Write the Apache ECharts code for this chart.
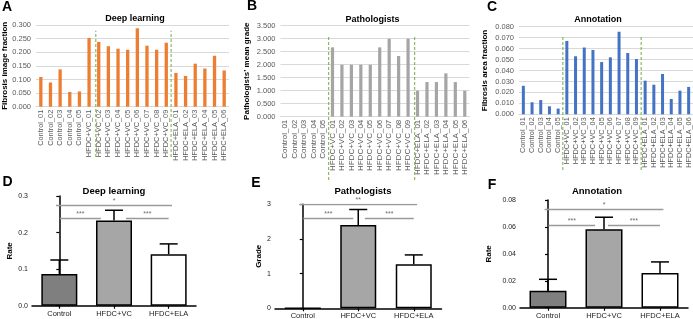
<!DOCTYPE html>
<html>
<head>
<meta charset="utf-8">
<script src="https://cdn.jsdelivr.net/npm/echarts/dist/echarts.min.js"></script>
<style>
  html, body { margin: 0; padding: 0; background: #fff; }
  #chart { width: 693px; height: 319px; }
</style>
</head>
<body>
<div id="chart"></div>
<script>
// ---- data ----
const sampleNames = [
  'Control_01', 'Control_02', 'Control_03', 'Control_04', 'Control_05',
  'HFDC+VC_01', 'HFDC+VC_02', 'HFDC+VC_03', 'HFDC+VC_04', 'HFDC+VC_05',
  'HFDC+VC_06', 'HFDC+VC_07', 'HFDC+VC_08', 'HFDC+VC_09',
  'HFDC+ELA_01', 'HFDC+ELA_02', 'HFDC+ELA_03', 'HFDC+ELA_04', 'HFDC+ELA_05', 'HFDC+ELA_06',
];
const deepLearningValues = [
  0.109, 0.089, 0.137, 0.054, 0.056,
  0.252, 0.238, 0.222, 0.213, 0.209, 0.288, 0.224, 0.209, 0.235,
  0.124, 0.113, 0.158, 0.140, 0.187, 0.133,
];
const pathologistValues = [
  0, 0, 0, 0, 0,
  2.667, 2.0, 2.0, 2.0, 2.0, 2.667, 3.0, 2.333, 3.0,
  1.0, 1.333, 1.333, 1.667, 1.333, 1.0,
];
const annotationValues = [
  0.026, 0.011, 0.013, 0.0073, 0.0052,
  0.067, 0.053, 0.061, 0.0587, 0.0477, 0.052, 0.0754, 0.056, 0.0505,
  0.0307, 0.027, 0.0368, 0.014, 0.0216, 0.025,
];

const groups = ['Control', 'HFDC+VC', 'HFDC+ELA'];
const dlMean = [0.087, 0.233, 0.141];
const dlErr = [0.038, 0.028, 0.028];
const patMean = [0, 2.40, 1.27];
const patErr = [0, 0.45, 0.27];
const annMean = [0.0126, 0.0583, 0.0258];
const annErr = [0.0085, 0.0089, 0.0082];

// comparisons: [from group, to group, bracket height, mark]
const dlSig = [[0, 2, 0.275, '*'], [0, 1, 0.2405, '***'], [1, 2, 0.2405, '***']];
const patSig = [[0, 2, 3.0, '**'], [0, 1, 2.6, '***'], [1, 2, 2.6, '***']];
const annSig = [[0, 2, 0.0729, '*'], [0, 1, 0.0613, '***'], [1, 2, 0.0613, '***']];

// ---- layout ----
const FONT = '"Liberation Sans", Arial, sans-serif';
const GREY_TXT = '#595959';

const topPanels = [
  { values: deepLearningValues, color: '#ed7d31', max: 0.3, step: 0.05, name: 'Fibrosis image fraction',
    left: 36, width: 193, top: 25, height: 81.7, labelSize: 7.4, nameGap: 26, barWidth: 3.3,
    dash: [5.7, 13.5], dashTop: 30.7, dashBottom: 157 },
  { values: pathologistValues, color: '#a5a5a5', max: 3.5, step: 0.5, name: 'Pathologists\u2019 mean grade',
    left: 280.5, width: 189, top: 25.7, height: 91, labelSize: 8, nameGap: 30, barWidth: 3.2,
    dash: [4.6, 13.7], dashTop: 36.7, dashBottom: 180 },
  { values: annotationValues, color: '#4472c4', max: 0.08, step: 0.01, name: 'Fibrosis area fraction',
    left: 519, width: 174, top: 26.7, height: 87.6, labelSize: 7.3, nameGap: 30, barWidth: 3,
    dash: [4.54, 13.54], dashTop: 35.5, dashBottom: 170 },
];

const bottomPanels = [
  { mean: dlMean, err: dlErr, sig: dlSig, max: 0.3, step: 0.1, digits: 1, name: 'Rate',
    left: 32, width: 164, top: 196, height: 109.7, nameGap: 18, barWidth: 36, gapIn: [0.24, 0.22] },
  { mean: patMean, err: patErr, sig: patSig, max: 3, step: 1, digits: 0, name: 'Grade',
    left: 275, width: 166.5, top: 204.3, height: 104, nameGap: 12, barWidth: 36, gapIn: [0.09, 0.12] },
  { mean: annMean, err: annErr, sig: annSig, max: 0.08, step: 0.02, digits: 2, name: 'Rate',
    left: 520, width: 168, top: 200, height: 107.7, nameGap: 27, barWidth: 37, gapIn: [0.16, 0.07] },
];
const groupFills = ['#7f7f7f', '#a6a6a6', '#ffffff'];

const grid = [];
const xAxis = [];
const yAxis = [];
const series = [];

// top Excel-style panels: grids 0..2, dashed overlays: grids 3..5
topPanels.forEach((p, i) => {
  grid.push({ left: p.left, top: p.top, width: p.width, height: p.height, containLabel: false, outerBoundsMode: 'none' });
  xAxis.push({
    type: 'category', gridIndex: i, data: sampleNames,
    axisLine: { show: true, lineStyle: { color: '#d9d9d9', width: 1 } },
    axisTick: { show: false },
    axisLabel: { interval: 0, rotate: 90, fontSize: p.labelSize, color: GREY_TXT, fontFamily: FONT, margin: 3 },
    splitLine: { show: false },
  });
  yAxis.push({
    type: 'value', gridIndex: i, min: 0, max: p.max, interval: p.step,
    name: p.name, nameLocation: 'middle', nameGap: p.nameGap, nameRotate: 90,
    nameTextStyle: { fontSize: 8, fontWeight: 'bold', color: '#000', fontFamily: FONT },
    axisLine: { show: false }, axisTick: { show: false },
    axisLabel: { fontSize: 7.5, color: GREY_TXT, fontFamily: FONT, margin: 5, formatter: v => v.toFixed(3) },
    splitLine: { show: true, lineStyle: { color: '#d9d9d9', width: 1 } },
  });
  series.push({
    type: 'bar', xAxisIndex: i, yAxisIndex: i, data: p.values,
    barWidth: p.barWidth, itemStyle: { color: p.color }, silent: true,
  });
});
topPanels.forEach((p, i) => {
  const g = 3 + i;
  grid.push({ left: p.left, top: p.dashTop, width: p.width, height: p.dashBottom - p.dashTop, containLabel: false, outerBoundsMode: 'none' });
  xAxis.push({ type: 'value', gridIndex: g, min: -0.5, max: sampleNames.length - 0.5, show: false });
  yAxis.push({ type: 'value', gridIndex: g, min: 0, max: 1, show: false });
  // group separators, drawn through the dashed overlay's own scales
  series.push({
    type: 'custom', xAxisIndex: g, yAxisIndex: g, silent: true, z: 4,
    data: p.dash.map(x => [x, 0, 1]),
    renderItem: (params, api) => {
      const a = api.coord([api.value(0), api.value(1)]);
      const b = api.coord([api.value(0), api.value(2)]);
      return {
        type: 'line',
        shape: { x1: a[0], y1: a[1], x2: b[0], y2: b[1] },
        style: { stroke: '#70ad47', lineWidth: 1, lineDash: [3, 2] },
      };
    },
  });
});

// bottom Prism-style panels: grids 6..8, category x 6..8, value x 9..11
bottomPanels.forEach((p, i) => {
  const g = 6 + i;
  grid.push({ left: p.left, top: p.top, width: p.width, height: p.height, containLabel: false, outerBoundsMode: 'none' });
  xAxis[g] = {
    type: 'category', gridIndex: g, data: groups,
    axisLine: { show: true, lineStyle: { color: '#000', width: 1.5 } },
    axisTick: { show: true, alignWithLabel: true, length: 3, lineStyle: { color: '#000', width: 1.2 } },
    axisLabel: { interval: 0, fontSize: 7.5, color: '#222', fontFamily: FONT, margin: 4 },
    splitLine: { show: false },
  };
  xAxis[9 + i] = { type: 'value', gridIndex: g, min: -0.5, max: 2.5, show: false };
  yAxis.push({
    type: 'value', gridIndex: g, min: 0, max: p.max, interval: p.step,
    name: p.name, nameLocation: 'middle', nameGap: p.nameGap, nameRotate: 90,
    nameTextStyle: { fontSize: 8, fontWeight: 'bold', color: '#000', fontFamily: FONT },
    axisLine: { show: true, lineStyle: { color: '#000', width: 1.5 } },
    axisTick: { show: true, length: 3, lineStyle: { color: '#000', width: 1.2 } },
    axisLabel: { fontSize: 7, color: '#222', fontFamily: FONT, margin: 4, formatter: v => v.toFixed(p.digits) },
    splitLine: { show: false },
  });
  series.push({
    type: 'bar', xAxisIndex: g, yAxisIndex: g, barWidth: p.barWidth, silent: true,
    itemStyle: { borderColor: '#000', borderWidth: 1.5 },
    data: p.mean.map((v, k) => ({ value: v, itemStyle: { color: groupFills[k] } })),
  });
  // error bars (mean -> mean + sd with a cap)
  series.push({
    type: 'custom', xAxisIndex: g, yAxisIndex: g, silent: true, z: 6,
    data: p.mean.map((v, k) => [k, v, v + p.err[k]]),
    renderItem: (params, api) => {
      if (api.value(2) <= api.value(1)) return;
      const base = api.coord([api.value(0), api.value(1)]);
      const top = api.coord([api.value(0), api.value(2)]);
      const half = 9;
      const st = { stroke: '#000', lineWidth: 1.5 };
      return {
        type: 'group',
        children: [
          { type: 'line', shape: { x1: base[0], y1: base[1], x2: top[0], y2: top[1] }, style: st },
          { type: 'line', shape: { x1: top[0] - half, y1: top[1], x2: top[0] + half, y2: top[1] }, style: st },
        ],
      };
    },
  });
  // significance brackets
  const spans = p.sig.map(([a, b]) => {
    if (a === 0 && b === 2) return [a - 0.06, b + 0.06];
    if (b === 1) return [a + 0.01, b - p.gapIn[0]];
    return [a + p.gapIn[1], b];
  });
  series.push({
    type: 'lines', coordinateSystem: 'cartesian2d', xAxisIndex: 9 + i, yAxisIndex: g, silent: true, z: 5,
    lineStyle: { color: '#9a9a9a', width: 1.3, opacity: 1 },
    data: p.sig.map((s, k) => ({ coords: [[spans[k][0], s[2]], [spans[k][1], s[2]]] })),
  });
  series.push({
    type: 'scatter', xAxisIndex: 9 + i, yAxisIndex: g, silent: true, z: 5,
    symbolSize: 1, itemStyle: { color: 'rgba(0,0,0,0)' },
    data: p.sig.map((s, k) => [(spans[k][0] + spans[k][1]) / 2, s[2]]),
    label: {
      show: true, position: 'top', distance: 0, fontSize: 7, color: '#444', fontFamily: FONT,
      formatter: q => p.sig[q.dataIndex][3],
    },
  });
});

const textEl = (text, x, y, size) => ({
  type: 'text', x, y, silent: true,
  style: {
    text, font: `bold ${size}px ${FONT}`, fill: '#000',
    align: 'center', verticalAlign: 'middle', textAlign: 'center', textVerticalAlign: 'middle',
  },
});

const graphic = [
  textEl('A', 7, 7, 14), textEl('B', 252, 6.5, 14), textEl('C', 492, 7.5, 14),
  textEl('D', 7.5, 182, 14), textEl('E', 256, 183.5, 14), textEl('F', 492, 185, 14),
  textEl('Deep learning', 135, 19, 9), textEl('Pathologists', 372.5, 19.3, 9), textEl('Annotation', 598, 19.3, 9),
  textEl('Deep learning', 114, 191, 9.5), textEl('Pathologists', 363, 191.5, 9.5), textEl('Annotation', 597, 191, 9.5),
];

const myChart = echarts.init(document.getElementById('chart'), null, { renderer: 'canvas' });
myChart.setOption({
  animation: false,
  backgroundColor: '#fff',
  textStyle: { fontFamily: FONT },
  grid,
  xAxis,
  yAxis,
  series,
  graphic,
});
</script>
</body>
</html>
